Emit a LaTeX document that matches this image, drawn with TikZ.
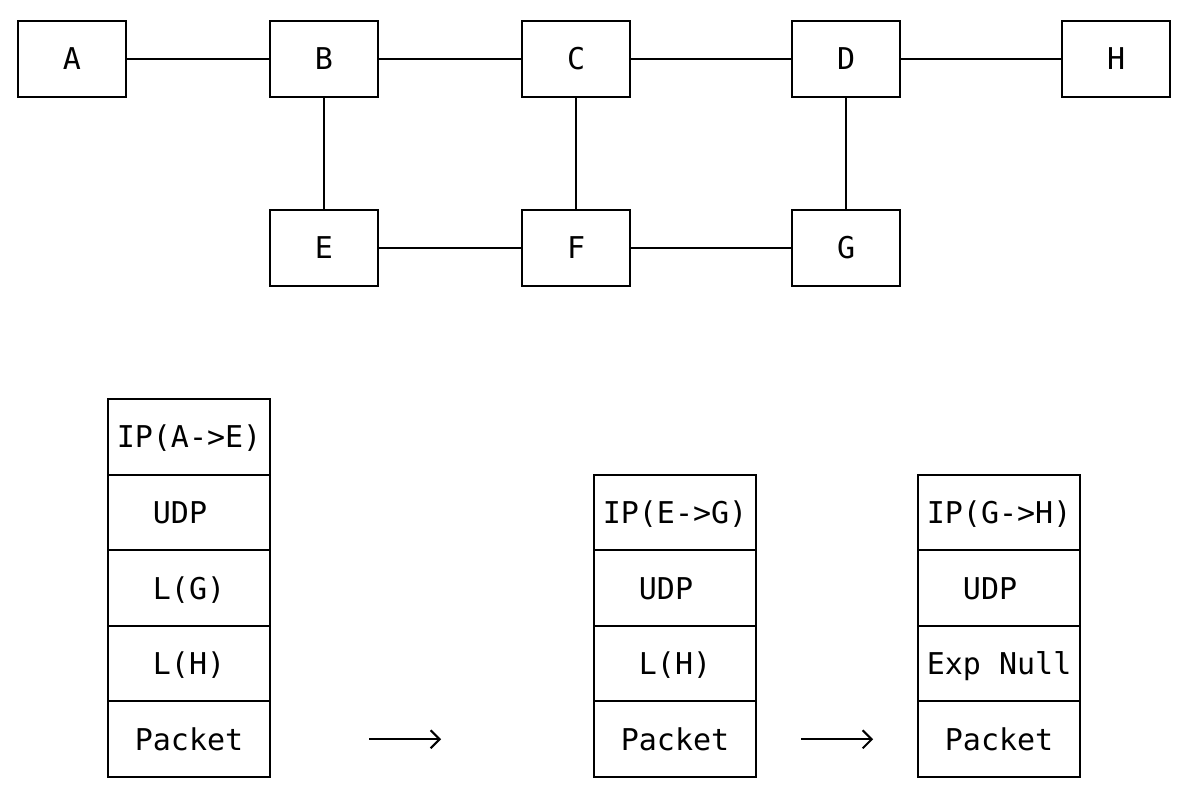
\documentclass[tikz,border=0pt]{standalone}
\usepackage{fontspec}
\newfontfamily\asciifont{DejaVu Sans Mono}
\usetikzlibrary{arrows.meta}

\begin{document}
\begin{tikzpicture}[x=18pt,y=-37.8pt,
	font=\asciifont\fontsize{30}{36}\selectfont,
	router/.style={draw=black,line width=2pt,minimum width=108pt,minimum height=75.6pt,inner sep=0pt,outer sep=0pt,text height=21.9pt,text depth=0pt},
	cell/.style={draw=black,line width=2pt,minimum width=162pt,minimum height=75.6pt,inner sep=0pt,outer sep=0pt,text height=21.9pt,text depth=0pt},
	link/.style={line width=2pt,draw=black},
	flow/.style={line width=2pt,draw=black,-{Straight Barb[length=9pt,width=18pt]}}]
	\useasboundingbox (-1,-0.556) rectangle (64.94,20.185);
	% routers, top row
	\node[router] (A) at (3,1) {A};
	\node[router] (B) at (17,1) {B};
	\node[router] (C) at (31,1) {C};
	\node[router] (D) at (46,1) {D};
	\node[router] (H) at (61,1) {H};
	% routers, lower row
	\node[router] (E) at (17,6) {E};
	\node[router] (F) at (31,6) {F};
	\node[router] (G) at (46,6) {G};
	\draw[link] (A) -- (B);
	\draw[link] (B) -- (C);
	\draw[link] (C) -- (D);
	\draw[link] (D) -- (H);
	\draw[link] (B) -- (E);
	\draw[link] (C) -- (F);
	\draw[link] (D) -- (G);
	\draw[link] (E) -- (F);
	\draw[link] (F) -- (G);
	% packet at A
	\node[cell] (ip1) at (9.5,11) {IP(A->E)};
	\node[cell] (udp1) at (9.5,13) {UDP\hphantom{x}};
	\node[cell] (lg1) at (9.5,15) {L(G)};
	\node[cell] (lh1) at (9.5,17) {L(H)};
	\node[cell] (pk1) at (9.5,19) {Packet};
	% packet at E
	\node[cell] (ip2) at (36.5,13) {IP(E->G)};
	\node[cell] (udp2) at (36.5,15) {UDP\hphantom{x}};
	\node[cell] (lh2) at (36.5,17) {L(H)};
	\node[cell] (pk2) at (36.5,19) {Packet};
	% packet at G
	\node[cell] (ip3) at (54.5,13) {IP(G->H)};
	\node[cell] (udp3) at (54.5,15) {UDP\hphantom{x}};
	\node[cell] (en3) at (54.5,17) {Exp Null};
	\node[cell] (pk3) at (54.5,19) {Packet};
	\draw[flow] ([xshift=99pt]pk1.east) -- ([xshift=-153pt]pk2.west);
	\draw[flow] ([xshift=45pt]pk2.east) -- ([xshift=-45pt]pk3.west);
\end{tikzpicture}
\end{document}
